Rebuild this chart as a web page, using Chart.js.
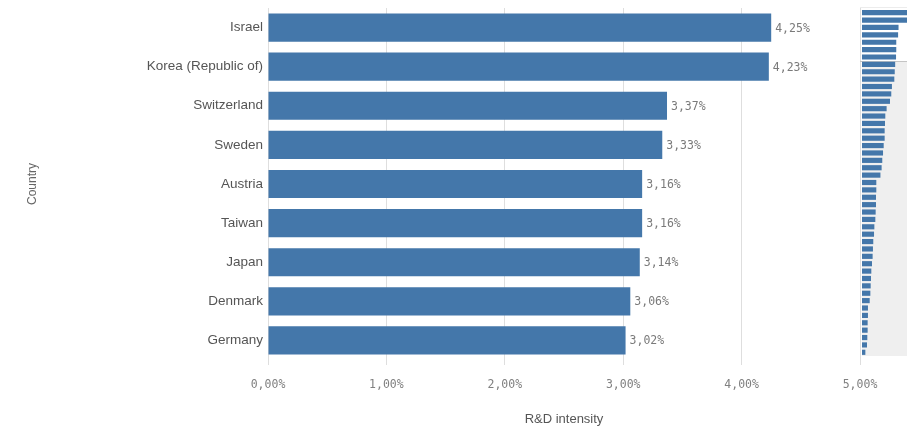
<!DOCTYPE html>
<html><head><meta charset="utf-8">
<script src="https://cdn.jsdelivr.net/npm/chart.js@4/dist/chart.umd.min.js"></script>
<style>
html,body{margin:0;padding:0;background:#fff;overflow:hidden}
#wrap{position:relative;width:907px;height:428px}
#main{position:absolute;left:0;top:0}
#overview{position:absolute;left:860px;top:0}
</style></head><body>
<div id="wrap"><canvas id="main" width="907" height="428"></canvas><canvas id="overview" width="47" height="360"></canvas></div>
<script>
const countries = ['Israel', 'Korea (Republic of)', 'Switzerland', 'Sweden', 'Austria', 'Taiwan', 'Japan', 'Denmark', 'Germany'];
const intensity = [4.25, 4.23, 3.37, 3.33, 3.16, 3.16, 3.14, 3.06, 3.02];
const xTickValues = [0, 1, 2, 3, 4, 5];
const xTickLabels = ['0,00%', '1,00%', '2,00%', '3,00%', '4,00%', '5,00%'];
// overview (scroll-bar mini chart): all countries, sorted
const overviewValues = [4.25, 4.23, 3.37, 3.33, 3.16, 3.16, 3.14, 3.06, 3.02,
  2.98, 2.76, 2.70, 2.58, 2.27, 2.15, 2.12, 2.09, 2.09, 2.00, 1.94, 1.87, 1.81, 1.70,
  1.32, 1.32, 1.29, 1.29, 1.26, 1.23, 1.14, 1.11, 1.04, 1.01, 0.98, 0.92, 0.86, 0.83,
  0.80, 0.77, 0.71, 0.55, 0.55, 0.52, 0.52, 0.49, 0.46, 0.31];
const overviewLabels = overviewValues.map((v, i) => String(i + 1));
const viewportBars = 7;

const fmt = v => v.toFixed(2).replace('.', ',') + '%';
const BAR = '#4477aa';

const valueLabels = {
  id: 'valueLabels',
  afterDatasetsDraw(chart) {
    const ctx = chart.ctx;
    const meta = chart.getDatasetMeta(0);
    const data = chart.data.datasets[0].data;
    ctx.save();
    ctx.font = '11.5px "DejaVu Sans Mono"';
    ctx.fillStyle = '#7a7a7a';
    ctx.textBaseline = 'middle';
    ctx.textAlign = 'left';
    meta.data.forEach((bar, i) => ctx.fillText(fmt(data[i]), bar.x + 4, bar.y + 1));
    ctx.restore();
  }
};

new Chart(document.getElementById('main'), {
  type: 'bar',
  data: { labels: countries, datasets: [{ data: intensity, backgroundColor: BAR, categoryPercentage: 0.72, barPercentage: 1 }] },
  options: {
    indexAxis: 'y', responsive: false, animation: false, devicePixelRatio: 1,
    layout: { padding: { top: 8, right: 47, bottom: 0, left: 0 } },
    plugins: { legend: { display: false }, tooltip: { enabled: false } },
    scales: {
      x: {
        min: 0, max: 5,
        afterBuildTicks: s => { s.ticks = xTickValues.map(v => ({ value: v })); },
        ticks: { callback: (v, i) => xTickLabels[i], font: { family: 'DejaVu Sans Mono', size: 11.5 }, color: '#808080', padding: 13, maxRotation: 0 },
        grid: { color: '#dedede', tickLength: 5 },
        border: { display: false },
        title: { display: true, text: 'R&D intensity', font: { family: 'Liberation Sans', size: 13 }, color: '#555', padding: { top: 0, bottom: 1 } },
        afterFit: s => { s.height = 68; s.paddingLeft = 0; s.paddingRight = 0; }
      },
      y: {
        ticks: { font: { family: 'Liberation Sans', size: 13.5 }, color: '#555', padding: 5, autoSkip: false },
        grid: { display: false, drawTicks: false },
        border: { display: false },
        title: { display: true, text: 'Country', font: { family: 'Liberation Sans', size: 12 }, color: '#666', padding: { top: 25, bottom: 0 } },
        afterFit: s => { s.width = 268; s.paddingTop = 0; s.paddingBottom = 0; }
      }
    }
  },
  plugins: [valueLabels]
});

const overviewBg = {
  id: 'overviewBg',
  beforeDatasetsDraw(chart) {
    const ctx = chart.ctx, y = chart.scales.y, a = chart.chartArea;
    const vb = Math.round((y.getPixelForValue(viewportBars - 1) + y.getPixelForValue(viewportBars)) / 2) + 0.5;
    const vt = Math.round(a.top - 2) + 0.5;
    ctx.save();
    ctx.fillStyle = '#efefef';
    ctx.fillRect(a.left, vb, a.right - a.left, a.bottom - vb);
    ctx.lineWidth = 1;
    ctx.strokeStyle = '#ececec';
    ctx.beginPath(); ctx.moveTo(0, vt); ctx.lineTo(chart.width, vt); ctx.stroke();
    ctx.strokeStyle = '#c4c4c4';
    ctx.beginPath(); ctx.moveTo(0, vb); ctx.lineTo(chart.width, vb); ctx.stroke();
    ctx.restore();
  }
};

new Chart(document.getElementById('overview'), {
  type: 'bar',
  data: { labels: overviewLabels, datasets: [{ data: overviewValues, backgroundColor: BAR, categoryPercentage: 0.7, barPercentage: 1 }] },
  options: {
    indexAxis: 'y', responsive: false, animation: false, devicePixelRatio: 1,
    layout: { padding: { top: 9, right: 0, bottom: 4, left: 2 } },
    plugins: { legend: { display: false }, tooltip: { enabled: false } },
    scales: { x: { display: false, min: 0, max: 4.15 }, y: { display: false } }
  },
  plugins: [overviewBg]
});
</script>
</body></html>
